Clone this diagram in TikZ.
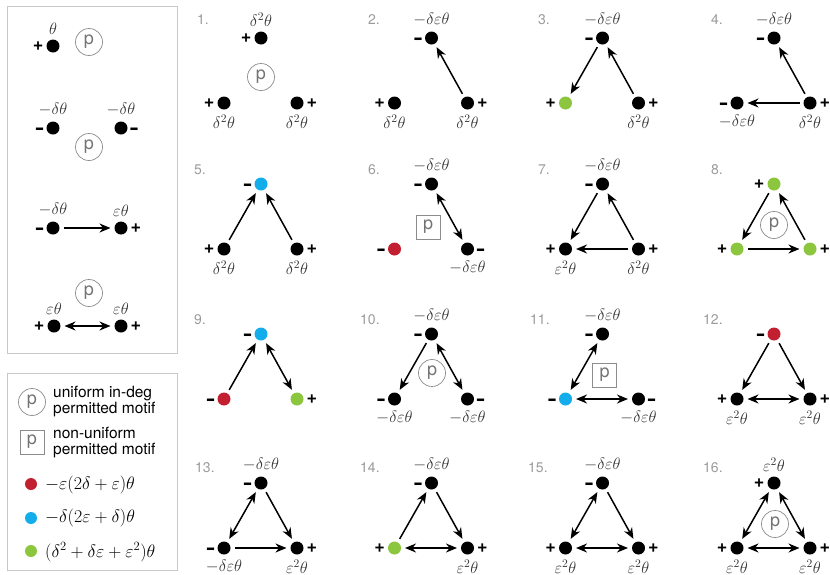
\RequirePackage{fix-cm}
\documentclass[tikz,border=0pt]{standalone}
\usepackage{graphicx}
\usepackage[no-math]{fontspec}
\setmainfont{TeX Gyre Heros}
\usetikzlibrary{arrows.meta}
\definecolor{mred}{HTML}{C21F30}
\definecolor{mblue}{HTML}{14ADEB}
\definecolor{mgreen}{HTML}{8CC63F}
\definecolor{numgray}{HTML}{9B9B9B}
\definecolor{boxgray}{HTML}{C8C8C8}
\newcommand\mns{\raisebox{-3.2pt}{\scalebox{0.85}[1.6]{\textbf{–}}}}
\newcommand\pls{\raisebox{-0.6pt}{\fontsize{18}{18}\selectfont\textbf{+}}}
\newcommand\mymotif[6]{%
  \node[dot,#4] (m#1t) at (#2,#3) {};
  \node[dot,#5] (m#1l) at ({#2-37},{#3+65}) {};
  \node[dot,#6] (m#1r) at ({#2+36},{#3+65}) {};
}
\tikzset{
  dot/.style={circle, fill=black, draw=none, inner sep=0pt, minimum size=13pt, outer sep=0pt},
  col/.style={fill=#1},
  sgnl/.style={font=\fontsize{15}{15}\selectfont\bfseries, inner sep=0pt, text height=7.8pt, text depth=0pt, label distance=3pt},
  vlab/.style={font=\fontsize{16.5}{16.5}\selectfont, text=black!80, inner sep=0pt, label distance=5pt},
  sl/.style={label={[sgnl]left:#1}},
  sr/.style={label={[sgnl]right:#1}},
  va/.style={label={[vlab]above:#1}},
  vb/.style={label={[vlab]below:#1}},
  tip/.tip={Stealth[length=11pt,width=9pt,inset=3.5pt]},
  arr/.style={-tip, line width=1.5pt, shorten >=4pt, shorten <=4pt},
  biarr/.style={tip-tip, line width=1.5pt, shorten >=4pt, shorten <=4pt},
  pcirc/.style={circle, draw=black!45, line width=0.7pt, minimum size=27pt, inner sep=0pt, text=black!55, font=\fontsize{18}{18}\selectfont},
  psq/.style={rectangle, draw=black!45, line width=0.7pt, minimum size=24pt, inner sep=0pt, text=black!55, font=\fontsize{18}{18}\selectfont},
  num/.style={anchor=west, inner sep=0pt, text=numgray, font=\fontsize{14}{14}\selectfont},
  panel/.style={draw=boxgray, line width=1pt},
  legtext/.style={anchor=west, inner sep=0pt, align=left, font=\fontsize{15.5}{16.5}\selectfont},
  legmath/.style={anchor=west, inner sep=0pt, font=\fontsize{18}{18}\selectfont},
  legdot/.style={circle, fill=#1, inner sep=0pt, minimum size=12pt},
}
\begin{document}
\begin{tikzpicture}[x=1pt,y=-1pt]
\useasboundingbox (0,0) rectangle (830,574);
% ---------- left panel ----------
\draw[panel] (7,6) rectangle (177,353);
\node[dot, sl=\pls, va={$\theta$}] (a1) at (53,46) {};
\node[pcirc] (pa1) at (89,42) {p};
\node[dot, sl=\mns, va={$-\delta\theta$}] (b1) at (53,128) {};
\node[dot, sr=\mns, va={$-\delta\theta$}] (b2) at (121,128) {};
\node[pcirc] (pb) at (89,147) {p};
\node[dot, sl=\mns, va={$-\delta\theta$}] (c1) at (53,228) {};
\node[dot, sr=\pls, va={$\varepsilon\theta$}] (c2) at (121,228) {};
\draw[arr] (c1) -- (c2);
\node[pcirc] (pd) at (89,293) {p};
\node[dot, sl=\pls, va={$\varepsilon\theta$}] (d1) at (54,326) {};
\node[dot, sr=\pls, va={$\varepsilon\theta$}] (d2) at (121,326) {};
\draw[biarr] (d1) -- (d2);
% ---------- legend ----------
\draw[panel] (7,373) rectangle (177,570);
\node[pcirc] (lp1) at (32,402) {p};
\node[legtext] (lt1) at (53,401.5) {uniform in-deg\\permitted motif};
\node[psq] (lp2) at (32,442) {p};
\node[legtext] (lt2) at (53,442.5) {non-uniform\\permitted motif};
\node[legdot=mred] (lr) at (31,484) {};
\node[legmath] (lmr) at (45,485) {$-\varepsilon(2\delta+\varepsilon)\theta$};
\node[legdot=mblue] (lb) at (31,518) {};
\node[legmath] (lmb) at (45,518) {$-\delta(2\varepsilon+\delta)\theta$};
\node[legdot=mgreen] (lg) at (31,551) {};
\node[legmath] (lmg) at (45,552) {$(\delta^2+\delta\varepsilon+\varepsilon^2)\theta$};
% ---------- motifs ----------
% row 1
\node[num] (n1) at (197,20) {1.};
\mymotif{1}{261}{38}{sl=\pls, va={$\delta^2\theta$}}{sl=\pls, vb={$\delta^2\theta$}}{sr=\pls, vb={$\delta^2\theta$}}
\node[pcirc] (p1) at (261,77) {p};
\node[num] (n2) at (368,20) {2.};
\mymotif{2}{431.5}{38}{sl=\mns, va={$-\delta\varepsilon\theta$}}{sl=\pls, vb={$\delta^2\theta$}}{sr=\pls, vb={$\delta^2\theta$}}
\draw[arr] (m2r) -- (m2t);
\node[num] (n3) at (538,20) {3.};
\mymotif{3}{602.5}{38}{sl=\mns, va={$-\delta\varepsilon\theta$}}{col=mgreen, sl=\pls}{sr=\pls, vb={$\delta^2\theta$}}
\draw[arr] (m3t) -- (m3l);
\draw[arr] (m3r) -- (m3t);
\node[num] (n4) at (711,20) {4.};
\mymotif{4}{774}{38}{sl=\mns, va={$-\delta\varepsilon\theta$}}{sl=\mns, vb={$-\delta\varepsilon\theta$}}{sr=\pls, vb={$\delta^2\theta$}}
\draw[arr] (m4r) -- (m4t);
\draw[arr] (m4r) -- (m4l);
% row 2
\node[num] (n5) at (194,169.5) {5.};
\mymotif{5}{261}{184}{col=mblue, sl=\mns}{sl=\pls, vb={$\delta^2\theta$}}{sr=\pls, vb={$\delta^2\theta$}}
\draw[arr] (m5l) -- (m5t);
\draw[arr] (m5r) -- (m5t);
\node[num] (n6) at (368,169.5) {6.};
\mymotif{6}{431.5}{184}{sl=\mns, va={$-\delta\varepsilon\theta$}}{col=mred, sl=\mns}{sr=\mns, vb={$-\delta\varepsilon\theta$}}
\draw[biarr] (m6t) -- (m6r);
\node[psq] (p6) at (428,227) {p};
\node[num] (n7) at (538,169.5) {7.};
\mymotif{7}{602.5}{184}{sl=\mns, va={$-\delta\varepsilon\theta$}}{sl=\pls, vb={$\varepsilon^2\theta$}}{sr=\pls, vb={$\delta^2\theta$}}
\draw[arr] (m7t) -- (m7l);
\draw[arr] (m7r) -- (m7t);
\draw[arr] (m7r) -- (m7l);
\node[num] (n8) at (711,169.5) {8.};
\mymotif{8}{774}{184}{col=mgreen, sl=\pls}{col=mgreen, sl=\pls}{col=mgreen, sr=\pls}
\draw[arr] (m8t) -- (m8l);
\draw[arr] (m8l) -- (m8r);
\draw[arr] (m8r) -- (m8t);
\node[pcirc] (p8) at (774,225) {p};
% row 3
\node[num] (n9) at (194,319.5) {9.};
\mymotif{9}{261}{334}{col=mblue, sl=\mns}{col=mred, sl=\mns}{col=mgreen, sr=\pls}
\draw[arr] (m9l) -- (m9t);
\draw[biarr] (m9t) -- (m9r);
\node[num] (n10) at (360,319.5) {10.};
\mymotif{10}{431.5}{334}{sl=\mns, va={$-\delta\varepsilon\theta$}}{sl=\mns, vb={$-\delta\varepsilon\theta$}}{sr=\mns, vb={$-\delta\varepsilon\theta$}}
\draw[arr] (m10t) -- (m10l);
\draw[biarr] (m10t) -- (m10r);
\node[pcirc] (p10) at (432,373) {p};
\node[num] (n11) at (530,319.5) {11.};
\mymotif{11}{602.5}{334}{sl=\mns, va={$-\delta\varepsilon\theta$}}{col=mblue, sl=\mns}{sr=\mns, vb={$-\delta\varepsilon\theta$}}
\draw[biarr] (m11t) -- (m11l);
\draw[biarr] (m11l) -- (m11r);
\node[psq] (p11) at (604.5,375) {p};
\node[num] (n12) at (703,319.5) {12.};
\mymotif{12}{774}{334}{col=mred, sl=\mns}{sl=\pls, vb={$\varepsilon^2\theta$}}{sr=\pls, vb={$\varepsilon^2\theta$}}
\draw[arr] (m12t) -- (m12l);
\draw[arr] (m12t) -- (m12r);
\draw[biarr] (m12l) -- (m12r);
% row 4
\node[num] (n13) at (195,468) {13.};
\mymotif{13}{261}{483}{sl=\mns, va={$-\delta\varepsilon\theta$}}{sl=\mns, vb={$-\delta\varepsilon\theta$}}{sr=\pls, vb={$\varepsilon^2\theta$}}
\draw[biarr] (m13t) -- (m13l);
\draw[arr] (m13t) -- (m13r);
\draw[arr] (m13l) -- (m13r);
\node[num] (n14) at (360,468) {14.};
\mymotif{14}{431.5}{483}{sl=\mns, va={$-\delta\varepsilon\theta$}}{col=mgreen, sl=\pls}{sr=\pls, vb={$\varepsilon^2\theta$}}
\draw[arr] (m14l) -- (m14t);
\draw[arr] (m14t) -- (m14r);
\draw[biarr] (m14l) -- (m14r);
\node[num] (n15) at (528,468) {15.};
\mymotif{15}{602.5}{483}{sl=\mns, va={$-\delta\varepsilon\theta$}}{sl=\pls, vb={$\varepsilon^2\theta$}}{sr=\pls, vb={$\varepsilon^2\theta$}}
\draw[biarr] (m15t) -- (m15l);
\draw[arr] (m15t) -- (m15r);
\draw[biarr] (m15l) -- (m15r);
\node[num] (n16) at (703,468) {16.};
\mymotif{16}{774}{483}{sl=\pls, va={$\varepsilon^2\theta$}}{sl=\pls, vb={$\varepsilon^2\theta$}}{sr=\pls, vb={$\varepsilon^2\theta$}}
\draw[biarr] (m16t) -- (m16l);
\draw[biarr] (m16t) -- (m16r);
\draw[biarr] (m16l) -- (m16r);
\node[pcirc] (p16) at (775,524) {p};
\end{tikzpicture}
\end{document}
